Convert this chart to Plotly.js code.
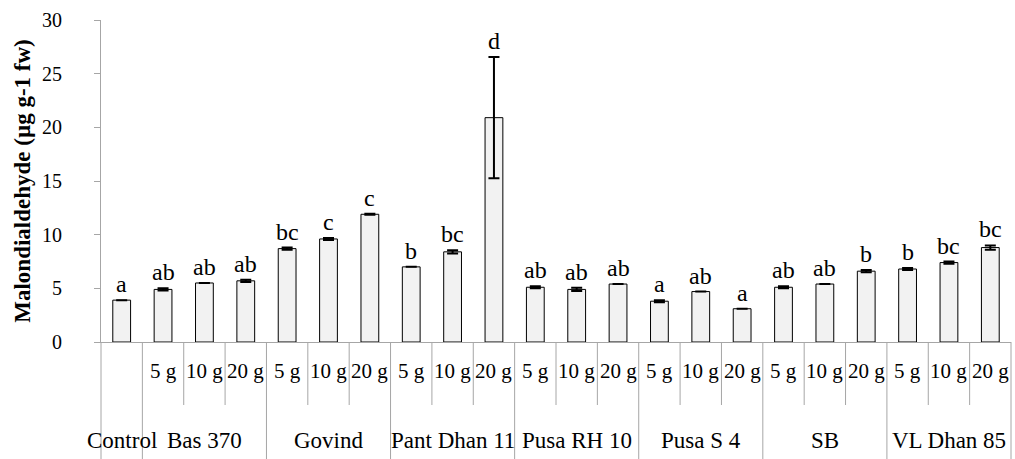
<!DOCTYPE html>
<html>
<head>
<meta charset="utf-8">
<script src="https://cdn.plot.ly/plotly-3.0.1.min.js"></script>
<style>
  html, body { margin: 0; padding: 0; background: #fff; }
  #chart { width: 1015px; height: 459px; }
</style>
</head>
<body>
<div id="chart"></div>
<script>
// ---- Data ----
const varieties = ['Control', 'Bas 370', 'Govind', 'Pant Dhan 11', 'Pusa RH 10', 'Pusa S 4', 'SB', 'VL Dhan 85'];
const doses = ['5 g', '10 g', '20 g'];
// Malondialdehyde (µg g-1 fw): Control, then each variety at 5 g, 10 g, 20 g
const mda = [3.9,
             4.9, 5.5, 5.7,
             8.7, 9.6, 11.9,
             7.0, 8.4, 20.9,
             5.1, 4.9, 5.4,
             3.8, 4.7, 3.1,
             5.1, 5.4, 6.6,
             6.8, 7.4, 8.8];
const errs = [0,
              0.1, 0, 0.1,
              0.1, 0.1, 0.05,
              0, 0.15, 5.65,
              0.1, 0.15, 0,
              0.1, 0, 0,
              0.1, 0, 0.1,
              0.1, 0.1, 0.2];
const letters = ['a',
                 'ab', 'ab', 'ab',
                 'bc', 'c', 'c',
                 'b', 'bc', 'd',
                 'ab', 'ab', 'ab',
                 'a', 'ab', 'a',
                 'ab', 'ab', 'b',
                 'b', 'bc', 'bc'];

// ---- Build categories ----
const cats = [];
const subLab = [];
const groupSpans = [];
varieties.forEach(function (v, gi) {
  if (gi === 0) {
    groupSpans.push({ name: v, start: cats.length, count: 1 });
    cats.push(v); subLab.push('');
  } else {
    groupSpans.push({ name: v, start: cats.length, count: doses.length });
    doses.forEach(function (d) { cats.push(v + ' | ' + d); subLab.push(d); });
  }
});
const N = cats.length;

const serif = '"Liberation Serif", serif';
const gray = '#a6a6a6';

const plotH = 322;
const subY = -29 / plotH;
const grpY = -98 / plotH;
const shortLine = -63 / plotH;
const longLine = -117 / plotH;

const annotations = [];
cats.forEach(function (c, i) {
  annotations.push({
    x: c, y: mda[i] + errs[i], xref: 'x', yref: 'y',
    text: letters[i], showarrow: false, xanchor: 'center', yanchor: 'bottom', yshift: 1,
    font: { family: serif, size: 24, color: '#000' }
  });
});
cats.forEach(function (c, i) {
  if (subLab[i]) {
    annotations.push({
      x: c, y: subY, xref: 'x', yref: 'paper',
      text: subLab[i], showarrow: false, xanchor: 'center', yanchor: 'middle',
      font: { family: serif, size: 21, color: '#000' }
    });
  }
});
groupSpans.forEach(function (g) {
  annotations.push({
    x: (g.start + g.count / 2) / N, y: grpY, xref: 'paper', yref: 'paper',
    text: g.name, showarrow: false, xanchor: 'center', yanchor: 'middle',
    font: { family: serif, size: 23, color: '#000' }
  });
});

const groupEdges = new Set();
groupSpans.forEach(function (g) { groupEdges.add(g.start); groupEdges.add(g.start + g.count); });
const shapes = [];
for (let k = 0; k <= N; k++) {
  shapes.push({
    type: 'line', xref: 'paper', yref: 'paper',
    x0: k / N, x1: k / N, y0: 0, y1: groupEdges.has(k) ? longLine : shortLine,
    line: { color: gray, width: 1 }
  });
}

const trace = {
  type: 'bar',
  x: cats,
  y: mda,
  marker: { color: '#f2f2f2', line: { color: '#000', width: 1 } },
  error_y: { type: 'data', array: errs, visible: true, color: '#000', thickness: 2, width: 5.5 },
  hoverinfo: 'x+y'
};

const layout = {
  width: 1015, height: 459,
  margin: { l: 101, r: 4, t: 20, b: 117 },
  paper_bgcolor: '#fff', plot_bgcolor: '#fff',
  showlegend: false,
  bargap: 0.57,
  font: { family: serif, color: '#000' },
  xaxis: {
    type: 'category', showticklabels: false, ticks: '',
    showline: true, linecolor: gray, linewidth: 1, showgrid: false, zeroline: false,
    range: [-0.5, N - 0.5]
  },
  yaxis: {
    range: [0, 30], dtick: 5, tick0: 0,
    showline: true, linecolor: gray, linewidth: 1,
    ticks: 'outside', ticklen: 6, tickcolor: gray, tickwidth: 1,
    ticklabelstandoff: 28,
    showgrid: false, zeroline: false, automargin: true,
    tickfont: { family: serif, size: 20, color: '#000' },
    title: { text: '<b>Malondialdehyde (µg g-1 fw)</b>', font: { family: serif, size: 23, color: '#000' }, standoff: 4 }
  },
  annotations: annotations,
  shapes: shapes
};

Plotly.newPlot('chart', [trace], layout, { displayModeBar: false, staticPlot: true });
</script>
</body>
</html>
